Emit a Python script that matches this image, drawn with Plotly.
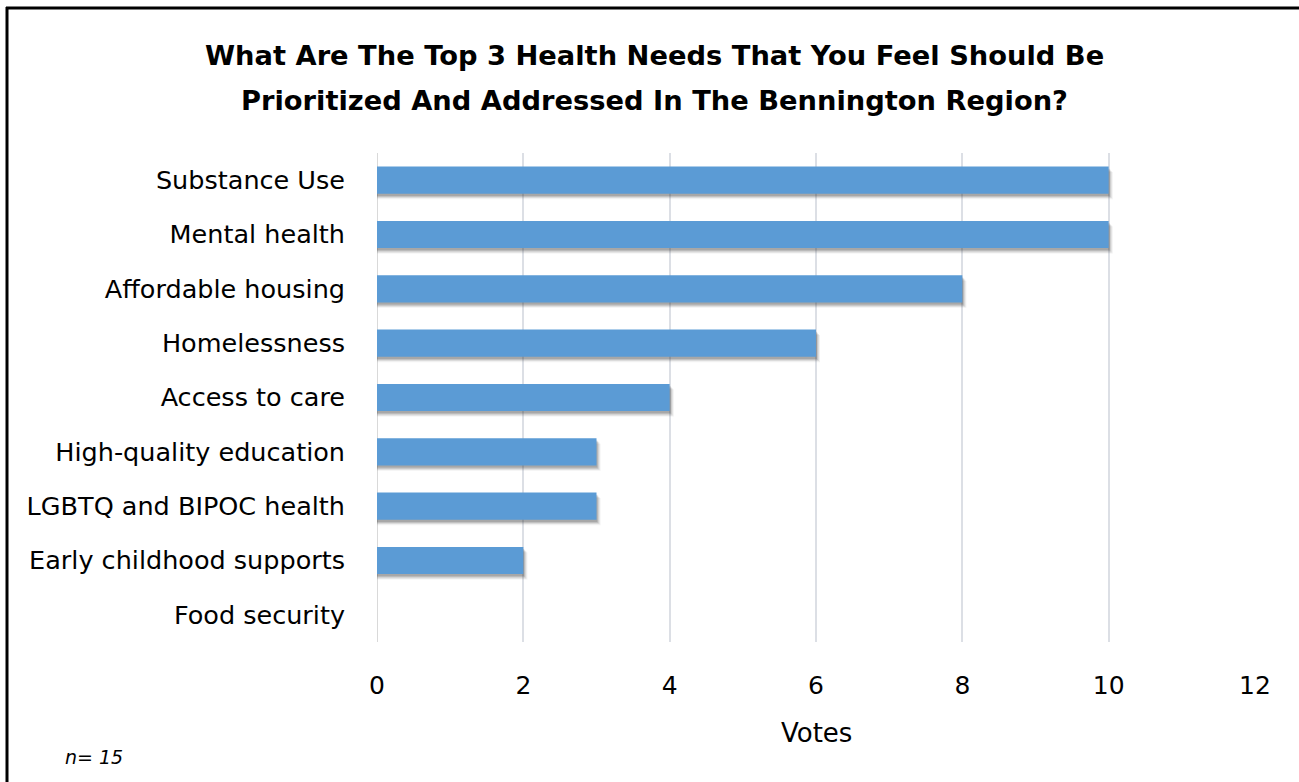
import plotly.graph_objects as go

# Survey results: votes per health need
categories = [
    "Substance Use",
    "Mental health",
    "Affordable housing",
    "Homelessness",
    "Access to care",
    "High-quality education",
    "LGBTQ and BIPOC health",
    "Early childhood supports",
    "Food security",
]
votes = [10, 10, 8, 6, 4, 3, 3, 2, 0]
x_ticks = [0, 2, 4, 6, 8, 10, 12]

title_lines = [
    "What Are The Top 3 Health Needs That You Feel Should Be",
    "Prioritized And Addressed In The Bennington Region?",
]
axis_title = "Votes"
sample_note = "n= 15"

W, H = 1299, 782
ML, MR, MT, MB = 377, 44, 153, 140
PW, PH = W - ML - MR, H - MT - MB

FONT = "DejaVu Sans"
BAR_COLOR = "#5B9BD5"
GRID_COLOR = "#DCDFE5"


def px_x(px):
    return (px - ML) / PW


def px_y(py):
    return 1 - (py - MT) / PH


fig = go.Figure()

# soft drop shadow beneath each bar
for dy, dx, alpha in [(0.10, 0.055, 0.07), (0.08, 0.04, 0.11), (0.06, 0.025, 0.15), (0.04, 0.012, 0.18)]:
    fig.add_trace(go.Bar(
        y=categories, x=[v + dx if v > 0 else 0 for v in votes],
        orientation="h", width=0.5, offset=-0.25 + dy,
        marker=dict(color=f"rgba(50,50,50,{alpha})", line=dict(width=0)),
        hoverinfo="skip", showlegend=False,
    ))

fig.add_trace(go.Bar(
    y=categories, x=votes, orientation="h", width=0.5, offset=-0.25,
    marker=dict(color=BAR_COLOR, line=dict(width=0)),
    showlegend=False,
))

fig.update_layout(
    width=W, height=H,
    margin=dict(l=ML, r=MR, t=MT, b=MB, pad=0),
    paper_bgcolor="white", plot_bgcolor="white",
    barmode="overlay",
    font=dict(family=FONT, color="#000000"),
    xaxis=dict(
        range=[0, 12], tickvals=x_ticks, ticktext=[str(t) for t in x_ticks],
        showgrid=True, gridcolor=GRID_COLOR, gridwidth=2,
        zeroline=False, showline=False,
        tickfont=dict(size=25, family=FONT), ticks="",
        ticklabelstandoff=26,
    ),
    yaxis=dict(
        autorange="reversed", showgrid=False, zeroline=False, showline=False,
        tickfont=dict(size=25.5, family=FONT), ticks="",
        ticklabelstandoff=31,
    ),
)

# category-axis baseline at zero
fig.add_shape(type="line", xref="x", yref="paper", x0=0, x1=0, y0=0, y1=1,
              line=dict(color="#D9D9D9", width=2), layer="below")

# chart frame (top and left edges)
fig.add_shape(type="line", xref="paper", yref="paper",
              x0=px_x(6), x1=px_x(W + 10), y0=px_y(8), y1=px_y(8),
              line=dict(color="black", width=3))
fig.add_shape(type="line", xref="paper", yref="paper",
              x0=px_x(7), x1=px_x(7), y0=px_y(7), y1=px_y(H + 10),
              line=dict(color="black", width=3))

for line, yc in zip(title_lines, [55, 100]):
    fig.add_annotation(text=f"<b>{line}</b>", xref="paper", yref="paper",
                       x=px_x(654), y=px_y(yc), xanchor="center", yanchor="middle",
                       showarrow=False, font=dict(size=27.3, family=FONT))

fig.add_annotation(text=axis_title, xref="paper", yref="paper",
                   x=px_x(816), y=px_y(733), xanchor="center", yanchor="middle",
                   showarrow=False, font=dict(size=26, family=FONT))
fig.add_annotation(text=f"<i>{sample_note}</i>", xref="paper", yref="paper",
                   x=px_x(63), y=px_y(757), xanchor="left", yanchor="middle",
                   showarrow=False, font=dict(size=19, family=FONT))

fig.write_html("out.html")
